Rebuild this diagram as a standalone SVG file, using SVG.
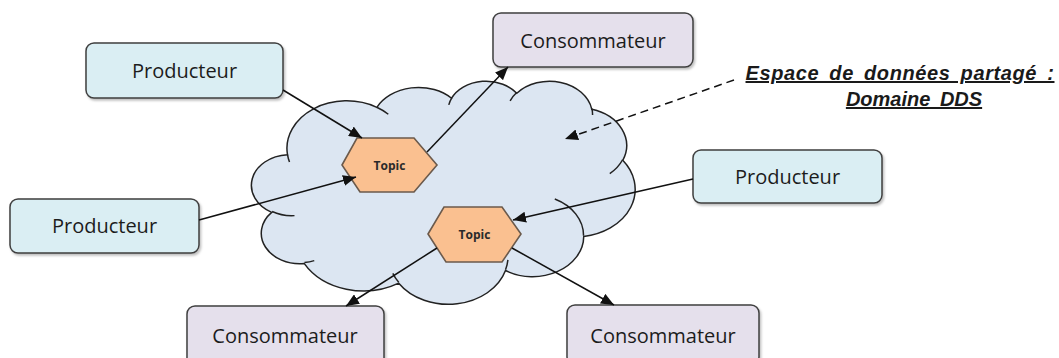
<svg xmlns="http://www.w3.org/2000/svg" width="1059" height="358" viewBox="0 0 1059 358">
<defs>
<marker id="arr" markerUnits="userSpaceOnUse" markerWidth="14" markerHeight="11" refX="13" refY="5.5" orient="auto">
<path d="M0,0 L13,5.5 L0,11 Z" fill="#111"/>
</marker>
<filter id="sh" x="-10%" y="-10%" width="130%" height="140%">
<feDropShadow dx="1.5" dy="2" stdDeviation="1.2" flood-color="#000" flood-opacity="0.25"/>
</filter>
</defs>
<style>
.prod{fill:#DAEEF3;stroke:#3f3f3f;stroke-width:1.5}
.cons{fill:#E5E0EC;stroke:#3f3f3f;stroke-width:1.5}
.lbl{font-family:"Open Sans","Noto Sans",sans-serif;font-size:20px;fill:#1c1c1c;text-anchor:middle}
.hex{fill:#FAC090;stroke:#6b5a4c;stroke-width:1.6}
.tp{font-family:"Open Sans","Noto Sans",sans-serif;font-size:12px;font-weight:bold;fill:#2a2a2a;text-anchor:middle}
.cl{fill:#DCE6F2;stroke:#222;stroke-width:1.5}
.cli{fill:none;stroke:#222;stroke-width:1.5}
.con{stroke:#111;stroke-width:1.5;fill:none;marker-end:url(#arr)}
.title{font-family:"Liberation Sans",Arial,sans-serif;font-size:20px;font-weight:bold;font-style:italic;fill:#1a1a1a;text-anchor:middle;text-decoration:underline;word-spacing:4px}
</style>
<rect width="1059" height="358" fill="#fff"/>
<g id="cloud" transform="translate(253,80.5) scale(0.0088426,0.005162)">
<path class="cl" vector-effect="non-scaling-stroke" d="M 3900 14370 A 6753 9190 0 0 1 14004 5202 A 5333 7267 0 0 1 22455 3432 A 4365 5945 0 0 1 29832 2482 A 4857 6595 0 0 1 38317 5578 A 5333 7273 0 0 1 41817 15462 A 6775 9220 0 0 1 37403 30205 A 5785 7867 0 0 1 28554 36815 A 6752 9215 0 0 1 16479 39265 A 7720 10543 0 0 1 5803 35468 A 4360 5918 0 0 1 2113 25545 A 4345 5945 0 0 1 3900 14370 Z"/>
<path class="cli" vector-effect="non-scaling-stroke" d="M 4693 26177 A 4345 5945 0 0 1 2160 25380 M 6928 34899 A 4360 5918 0 0 1 5819 35281 M 16478 39090 A 6752 9215 0 0 1 15810 37350 M 28827 34751 A 6752 9215 0 0 1 28560 36661 M 34129 22954 A 5785 7867 0 0 1 37381 30090 M 41798 15354 A 5333 7273 0 0 1 40350 18030 M 38324 5426 A 4857 6595 0 0 1 38400 6690 M 29078 3952 A 4857 6595 0 0 1 29820 2339 M 22141 4720 A 4365 5945 0 0 1 22501 3329 M 14000 5192 A 6753 9190 0 0 1 15300 6541 M 4127 15789 A 6753 9190 0 0 1 3900 14370"/>
</g>
<g id="prod-tl"><rect class="prod" x="86" y="43" width="197" height="55" rx="8" filter="url(#sh)"/><text class="lbl" x="184.5" y="78">Producteur</text></g>
<g id="prod-l"><rect class="prod" x="10" y="199" width="189" height="54" rx="8" filter="url(#sh)"/><text class="lbl" x="104.5" y="233">Producteur</text></g>
<g id="prod-r"><rect class="prod" x="693" y="150" width="189" height="53" rx="8" filter="url(#sh)"/><text class="lbl" x="787.5" y="184">Producteur</text></g>
<g id="cons-top"><rect class="cons" x="493" y="13" width="200" height="54" rx="8" filter="url(#sh)"/><text class="lbl" x="593" y="48">Consommateur</text></g>
<g id="cons-bl"><rect class="cons" x="187" y="306" width="197" height="60" rx="8" filter="url(#sh)"/><text class="lbl" x="285" y="343">Consommateur</text></g>
<g id="cons-br"><rect class="cons" x="567" y="305" width="192" height="60" rx="8" filter="url(#sh)"/><text class="lbl" x="663" y="343">Consommateur</text></g>
<g id="topic1"><polygon class="hex" points="342,165 357,138 414,138 437,165 414,192 360,192"/><text class="tp" x="389.5" y="169.5">Topic</text></g>
<g id="topic2"><polygon class="hex" points="428,234 444,207 502,207 521,234 502,262 446,262"/><text class="tp" x="474.5" y="238.5">Topic</text></g>
<g id="label"><text class="title" x="900" y="80" letter-spacing="0.6">Espace de données partagé :</text><text class="title" x="914" y="106">Domaine DDS</text></g>
<g id="connectors">
<line class="con" x1="283" y1="90" x2="362" y2="138"/>
<line class="con" x1="199" y1="220" x2="356" y2="177"/>
<line class="con" x1="427" y1="152" x2="508" y2="67"/>
<line class="con" x1="693" y1="179" x2="513" y2="220"/>
<line class="con" x1="437" y1="248" x2="346" y2="306"/>
<line class="con" x1="512" y1="248" x2="614" y2="305"/>
<line class="con" x1="734" y1="80" x2="565" y2="139" stroke-dasharray="8,5" stroke-width="2"/>
</g>
</svg>
